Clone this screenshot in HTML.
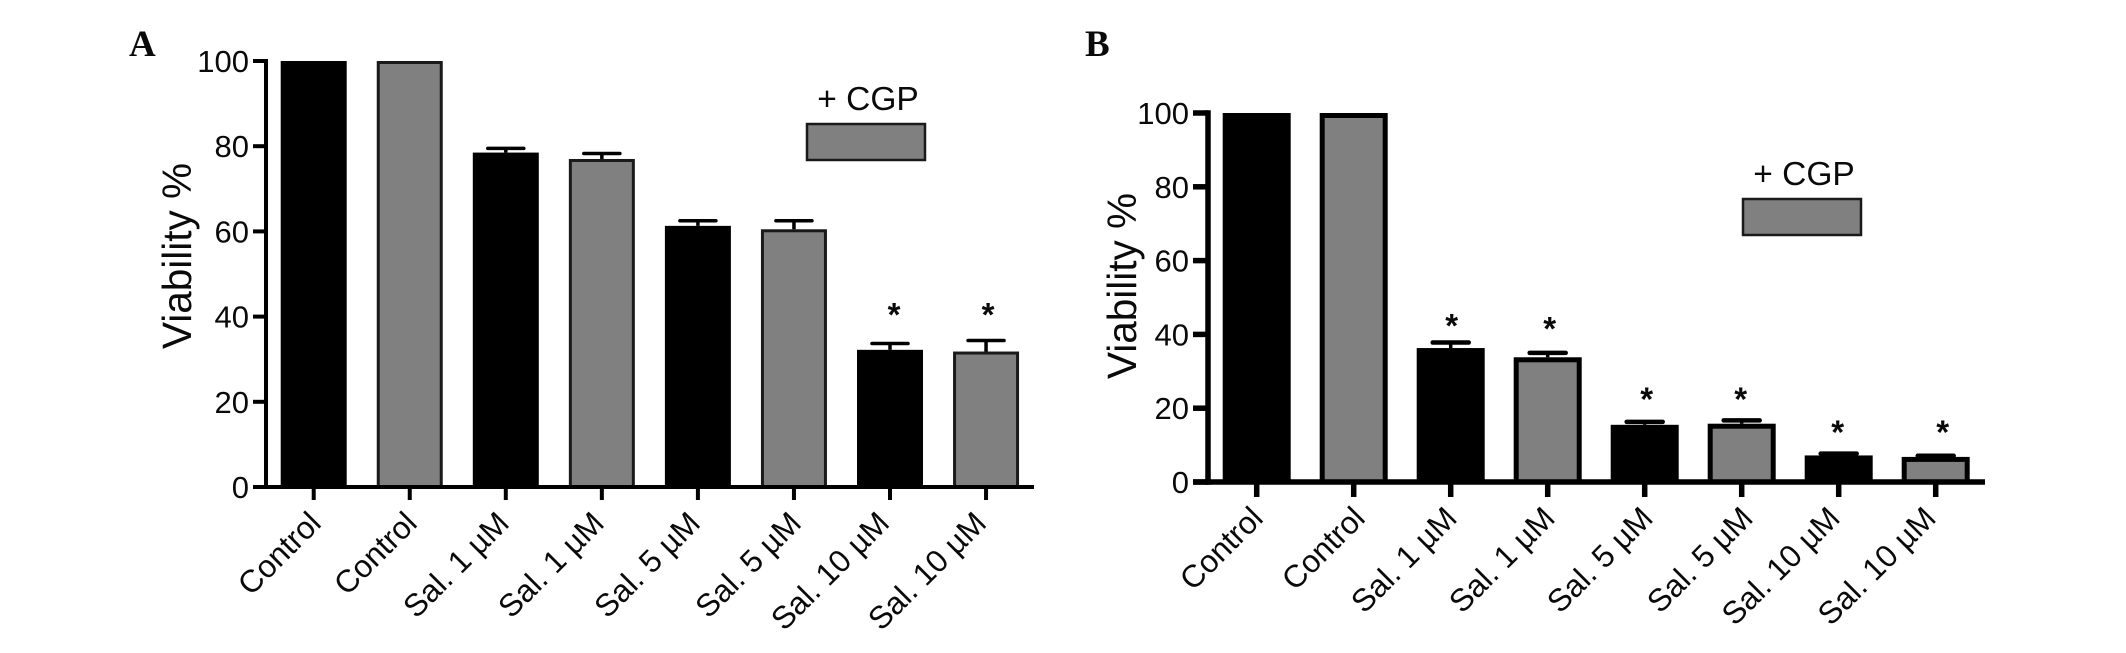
<!DOCTYPE html>
<html lang="en">
<head>
<meta charset="utf-8">
<title>Viability charts</title>
<style>
html,body{margin:0;padding:0;background:#fff;width:2126px;height:653px;overflow:hidden}
svg{display:block}
text{font-family:"Liberation Sans",Arial,sans-serif;fill:#0a0a0a}
</style>
</head>
<body>
<svg id="fig" xmlns="http://www.w3.org/2000/svg" width="2126" height="653" viewBox="0 0 2126 653"></svg>
<script>
var categories = ["Control","Control","Sal. 1 µM","Sal. 1 µM","Sal. 5 µM","Sal. 5 µM","Sal. 10 µM","Sal. 10 µM"];
var yTicks = [0,20,40,60,80,100];
var valuesA = [100,100,78.5,77,61.3,60.5,32.2,31.8];
var errorTopsA = [100,100,79.5,78.3,62.5,62.5,33.7,34.4];
var starLevelsA = [0,0,0,0,0,0,40.9,40.9];
var valuesB = [100,100,36.3,33.8,15.5,15.8,7.2,6.8];
var errorTopsB = [100,100,37.8,35,16.3,16.7,7.7,7.1];
var starLevelsB = [0,0,42.8,42,22.9,22.9,14,14];

var svg = document.getElementById('fig');
var NS = 'http://www.w3.org/2000/svg';
function mk(tag, attrs, parent, txt){
  var el = document.createElementNS(NS, tag);
  for (var k in attrs) el.setAttribute(k, attrs[k]);
  if (txt !== undefined) el.textContent = txt;
  (parent || svg).appendChild(el);
  return el;
}

function drawPanel(p){
  var g = mk('g', {});
  
  
  function y(v){ return p.y0 - (p.y0 - p.y100) * v / 100; }
  function x(i){ return p.x0 + p.dx * i; }

  var letter = mk('text', {x:p.letterX, y:p.letterY, 'font-size':37, 'font-weight':'bold', style:'font-family:"Liberation Serif",serif'}, g, p.id);
  
  

  p.values.forEach(function(v, i){
    var cx = x(i), grey = i % 2 === 1, sw = p.sw;
    if (p.errs[i] > v) {
      var stem = mk('line', {x1:cx, x2:cx, y1:y(v), y2:y(p.errs[i]), stroke:'#000', 'stroke-width':3.5}, g);
      
      
      var cap = mk('line', {x1:cx-18, x2:cx+18, y1:y(p.errs[i]), y2:y(p.errs[i]), stroke:'#000', 'stroke-width':p.capW, 'stroke-linecap':'round'}, g);
      
      
    }
    var bar = mk('rect', {x:cx-p.bw/2+sw/2, y:y(v)+sw/2, width:p.bw-sw, height:y(0)-y(v)-sw/2, fill:grey?'#808080':'#000', stroke:grey?p.edge:'#000', 'stroke-width':sw}, g);
    
    
    if (p.stars[i] > 0) {
      var star = mk('text', {x:cx+p.starNudge[i], y:y(p.stars[i])+13, 'font-size':33, 'font-weight':'bold', 'text-anchor':'middle'}, g, '*');
      
      
    }
  });

  var yAxis = mk('line', {x1:p.axisX, x2:p.axisX, y1:y(100)-p.axisW/2, y2:y(0)+p.axisW/2, stroke:'#000', 'stroke-width':p.axisW}, g);
  
  
  var xAxis = mk('line', {x1:p.tickL, x2:p.axisEnd, y1:y(0), y2:y(0), stroke:'#000', 'stroke-width':p.axisW}, g);
  
  

  yTicks.forEach(function(t){
    var tick = mk('line', {x1:p.tickL, x2:p.axisX, y1:y(t), y2:y(t), stroke:'#000', 'stroke-width':p.axisW}, g);
    
    
    var lab = mk('text', {x:p.tickL-4, y:y(t)+11, 'font-size':31, 'text-anchor':'end'}, g, String(t));
    
    
  });

  categories.forEach(function(c, i){
    var cx = x(i);
    var tick = mk('line', {x1:cx, x2:cx, y1:y(0), y2:y(0)+p.tickD, stroke:'#000', 'stroke-width':p.axisW}, g);
    
    
    var lx = cx + p.labelNudge[i], ly = y(0) + 38;
    var lab = mk('text', {x:lx, y:ly, 'font-size':31.5, 'text-anchor':'end', transform:'rotate(-45 '+lx+' '+ly+')'}, g, c);
    
    
  });

  var title = mk('text', {x:0, y:0, 'font-size':40.5, 'text-anchor':'middle', transform:'translate('+p.titleX+' '+p.titleY+') rotate(-90)'}, g, 'Viability %');
  
  

  var legText = mk('text', {x:p.legX+61, y:p.legY-14, 'font-size':33.5, 'text-anchor':'middle'}, g, '+ CGP');
  
  
  var legBox = mk('rect', {x:p.legX, y:p.legY, width:118, height:36, fill:'#808080', stroke:'#1a1a1a', 'stroke-width':2.5}, g);
  
  
}

drawPanel({id:'A', values:valuesA, errs:errorTopsA, stars:starLevelsA, x0:313.7, dx:96.05, bw:66, y0:487, y100:61, sw:3, capW:3.5, edge:'#1a1a1a',
  axisX:266, axisW:4, tickL:253, axisEnd:1034, tickD:13,
  labelNudge:[9,9,5,4,4,9,1,2], starNudge:[0,0,0,0,0,0,4,2], titleX:191, titleY:256,
  letterX:129, letterY:56, legX:807, legY:124});
drawPanel({id:'B', values:valuesB, errs:errorTopsB, stars:starLevelsB, x0:1256.7, dx:97, bw:68, y0:482, y100:113, sw:5, capW:4.5, edge:'#000',
  axisX:1208, axisW:5.5, tickL:1193, axisEnd:1985, tickD:15,
  labelNudge:[8,13,8,9,10,13,3,2], starNudge:[0,0,1,2,2,-1,-1,7], titleX:1136, titleY:286,
  letterX:1085, letterY:56, legX:1743, legY:199});
</script>
</body>
</html>
